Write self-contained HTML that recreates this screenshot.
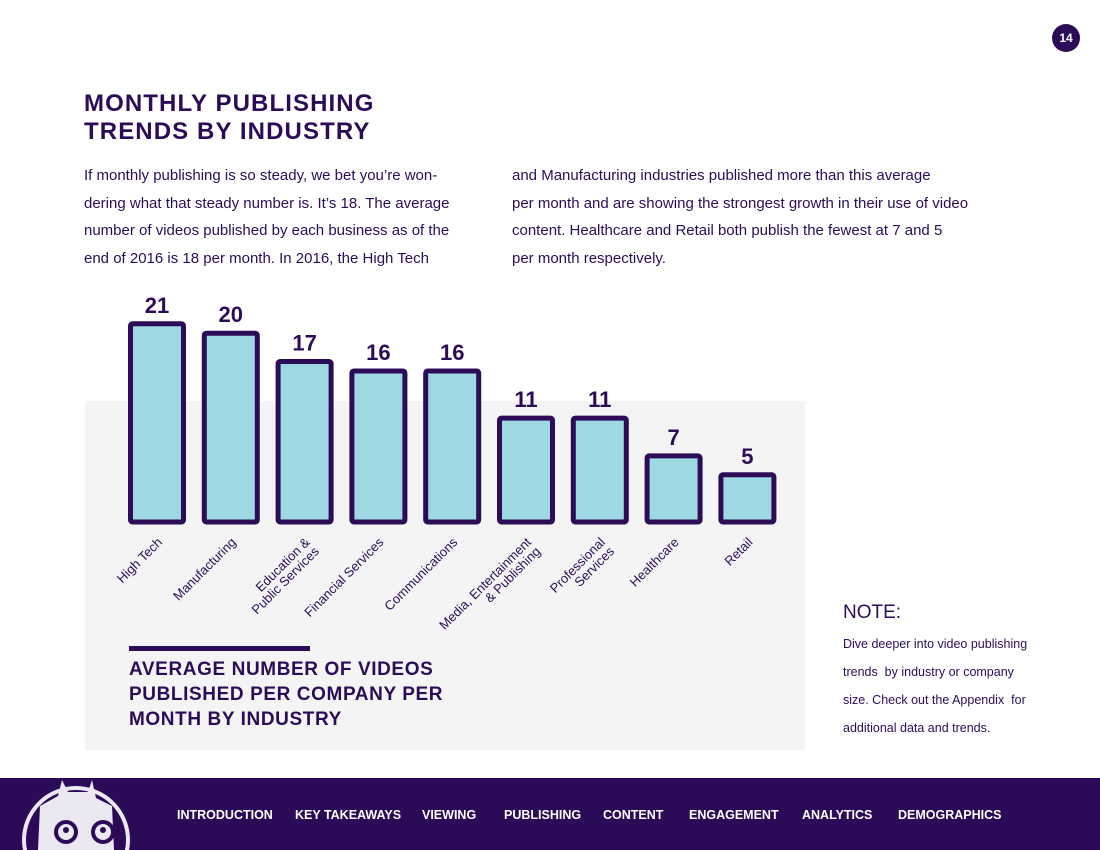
<!DOCTYPE html>
<html><head><meta charset="utf-8"><style>
body{margin:0;width:1100px;height:850px;position:relative;background:#fff;font-family:"Liberation Sans",sans-serif;overflow:hidden;color:#2d0c57}
.abs{position:absolute}
.p{font-size:15px;line-height:27.6px;color:#2d0c57}
.nav span{position:absolute;top:30px;font-size:12.5px;font-weight:bold;color:#fff}
</style></head><body>
<div class="abs" style="left:1052px;top:24px;width:28px;height:28px;border-radius:50%;background:#2d0c57;color:#fff;font-size:12px;font-weight:bold;text-align:center;line-height:28px">14</div>
<div class="abs" style="left:84px;top:90px;font-size:24px;font-weight:bold;line-height:28px;letter-spacing:1.1px">MONTHLY PUBLISHING<br>TRENDS BY INDUSTRY</div>
<div class="abs p" style="left:84px;top:162px;width:400px">If monthly publishing is so steady, we bet you’re won-<br>dering what that steady number is. It’s 18. The average<br>number of videos published by each business as of the<br>end of 2016 is 18 per month. In 2016, the High Tech</div>
<div class="abs p" style="left:512px;top:162px;width:520px">and Manufacturing industries published more than this average<br>per month and are showing the strongest growth in their use of video<br>content. Healthcare and Retail both publish the fewest at 7 and 5<br>per month respectively.</div>
<div class="abs" style="left:85px;top:401px;width:720px;height:349px;background:#f4f4f4"></div>
<svg class="abs" style="left:0;top:0" width="1100" height="850" id="chart"></svg>
<div class="abs" style="left:129px;top:646px;width:181px;height:5px;background:#2d0c57"></div>
<div class="abs" style="left:129px;top:657px;font-size:19px;font-weight:bold;line-height:25px;letter-spacing:0.6px">AVERAGE NUMBER OF VIDEOS<br>PUBLISHED PER COMPANY PER<br>MONTH BY INDUSTRY</div>
<div class="abs" style="left:843px;top:602px;font-size:19px">NOTE:</div>
<div class="abs" style="left:843px;top:630px;font-size:12.5px;line-height:28px">Dive deeper into video publishing<br>trends &nbsp;by industry or company<br>size. Check out the Appendix &nbsp;for<br>additional data and trends.</div>
<div class="abs nav" style="left:0;top:778px;width:1100px;height:72px;background:#2b0a57">
<svg class="abs" style="left:0;top:0" width="140" height="72">
<circle cx="76" cy="62" r="52" fill="none" stroke="#ece8f2" stroke-width="4"/>
<path d="M38 72 L40 28 L58 18 L62 2 L68 14 L88 14 L92 2 L96 20 L112 28 L114 72 Z" fill="#ece8f2"/>
<circle cx="66" cy="54" r="12" fill="#2b0a57"/><circle cx="66" cy="54" r="8" fill="#ece8f2"/><circle cx="66" cy="52" r="3" fill="#2b0a57"/>
<circle cx="103" cy="54" r="12" fill="#2b0a57"/><circle cx="103" cy="54" r="8" fill="#ece8f2"/><circle cx="103" cy="52" r="3" fill="#2b0a57"/>
</svg>
<span style="left:177px">INTRODUCTION</span>
<span style="left:295px">KEY TAKEAWAYS</span>
<span style="left:422px">VIEWING</span>
<span style="left:504px">PUBLISHING</span>
<span style="left:603px">CONTENT</span>
<span style="left:689px">ENGAGEMENT</span>
<span style="left:802px">ANALYTICS</span>
<span style="left:898px">DEMOGRAPHICS</span>
</div>
<script>
const categories=[["High Tech"],["Manufacturing"],["Education &","Public Services"],["Financial Services"],["Communications"],["Media, Entertainment","& Publishing"],["Professional","Services"],["Healthcare"],["Retail"]];
const values=[21,20,17,16,16,11,11,7,5];
const valueLabels=["21","20","17","16","16","11","11","7","5"];
const svg=document.getElementById('chart');
const NS='http://www.w3.org/2000/svg';
const x0=157,step=73.8,bw=53,base=522,unit=9.44;
const xScale=i=>x0+i*step;
const yScale=v=>base-v*unit;
values.forEach((v,i)=>{
  const cx=xScale(i),top=yScale(v);
  const r=document.createElementNS(NS,'rect');
  
  
  r.setAttribute('x',cx-bw/2);r.setAttribute('y',top);r.setAttribute('width',bw);r.setAttribute('height',base-top);
  r.setAttribute('fill','#9ed9e3');r.setAttribute('stroke','#2d0c57');r.setAttribute('stroke-width','5');r.setAttribute('rx','2');
  svg.appendChild(r);
  const t=document.createElementNS(NS,'text');
  
  
  t.setAttribute('x',cx);t.setAttribute('y',top-11);t.setAttribute('text-anchor','middle');
  t.setAttribute('font-size','22');t.setAttribute('font-weight','bold');t.setAttribute('fill','#2d0c57');
  t.setAttribute('font-family','Liberation Sans, sans-serif');
  t.textContent=valueLabels[i];svg.appendChild(t);
  const g=document.createElementNS(NS,'text');
  
  
  g.setAttribute('transform','translate('+(cx+6)+',543) rotate(-45)');
  g.setAttribute('text-anchor','end');g.setAttribute('font-size','13');g.setAttribute('fill','#2d0c57');
  g.setAttribute('font-family','Liberation Sans, sans-serif');
  const lines=categories[i];
  lines.forEach((ln,j)=>{const s=document.createElementNS(NS,'tspan');s.setAttribute('x',0);s.setAttribute('y',(j-(lines.length-1))*13+ (lines.length>1?13:0));s.textContent=ln;g.appendChild(s);});
  svg.appendChild(g);
});
</script>
</body></html>
